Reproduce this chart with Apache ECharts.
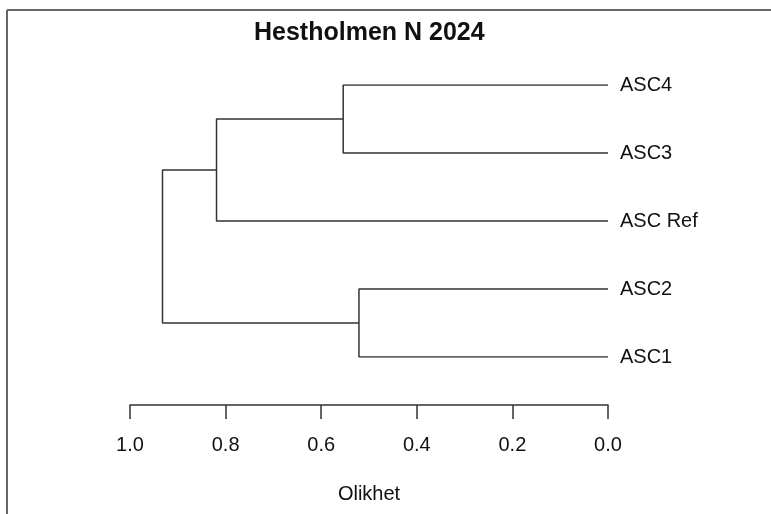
<!DOCTYPE html>
<html>
<head>
<meta charset="utf-8">
<script src="https://cdn.jsdelivr.net/npm/echarts@6/dist/echarts.min.js"></script>
<style>
  html, body { margin: 0; padding: 0; background: #fff; }
  #chart { width: 771px; height: 514px; }
</style>
</head>
<body>
<div id="chart"></div>
<script>
// leaves from bottom to top
var leafNames = ['ASC1', 'ASC2', 'ASC Ref', 'ASC3', 'ASC4'];
// hclust style merges: negative = leaf (1-based), positive = earlier merge
var mergeA = [-2, -5, 2, 1];
var mergeB = [-1, -4, -3, 3];
var mergeHeight = [0.521, 0.554, 0.819, 0.932];
var xTicks = [0, 0.2, 0.4, 0.6, 0.8, 1.0];

var font = "'Liberation Sans', Arial, sans-serif";
var lineColor = '#333';

function buildSegments() {
	var nodeY = [], nodeH = [];
	var series = [];
	function pos(ref) {
		if (ref < 0) return { y: -ref - 1, h: 0 };
		return { y: nodeY[ref - 1], h: nodeH[ref - 1] };
	}
	for (var i = 0; i < mergeHeight.length; i++) {
		var a = pos(mergeA[i]), b = pos(mergeB[i]);
		var h = mergeHeight[i];
		nodeY.push((a.y + b.y) / 2);
		nodeH.push(h);
		series.push({
			type: 'line',
			silent: true,
			symbol: 'none',
			animation: false,
			lineStyle: { color: lineColor, width: 1.5 },
			data: [[a.h, a.y], [h, a.y], [h, b.y], [b.h, b.y]]
		});
	}
	return series;
}

var chart = echarts.init(document.getElementById('chart'));
var option = {
	backgroundColor: '#fff',
	animation: false,
	title: {
		text: 'Hestholmen N 2024',
		left: 249,
		top: 16,
		textStyle: { fontFamily: font, fontSize: 25, fontWeight: 'bold', color: '#111' }
	},
	graphic: [
		{ type: 'line', shape: { x1: 7, y1: 10, x2: 771, y2: 10 }, style: { stroke: '#666', lineWidth: 2 } },
		{ type: 'line', shape: { x1: 7, y1: 10, x2: 7, y2: 514 }, style: { stroke: '#666', lineWidth: 2 } }
	],
	grid: { left: 130, right: 163, top: 85, bottom: 157 },
	xAxis: {
		type: 'value',
		inverse: true,
		min: xTicks[0],
		max: xTicks[xTicks.length - 1],
		interval: 0.2,
		offset: 48,
		name: 'Olikhet',
		nameLocation: 'middle',
		nameGap: 79,
		nameTextStyle: { fontFamily: font, fontSize: 20, color: '#111' },
		axisLine: { show: true, onZero: false, lineStyle: { color: lineColor, width: 1.5 } },
		axisTick: { show: true, length: 14, lineStyle: { color: lineColor, width: 1.5 } },
		axisLabel: {
			fontFamily: font, fontSize: 20, color: '#111', margin: 30,
			formatter: function (v) { return v.toFixed(1); }
		},
		splitLine: { show: false }
	},
	yAxis: {
		type: 'value',
		position: 'right',
		min: 0,
		max: leafNames.length - 1,
		interval: 1,
		axisLine: { show: false },
		axisTick: { show: false },
		splitLine: { show: false },
		axisLabel: {
			fontFamily: font, fontSize: 20, color: '#111', margin: 12,
			formatter: function (v) { return leafNames[v] || ''; }
		}
	},
	series: buildSegments()
};
chart.setOption(option);
</script>
</body>
</html>
